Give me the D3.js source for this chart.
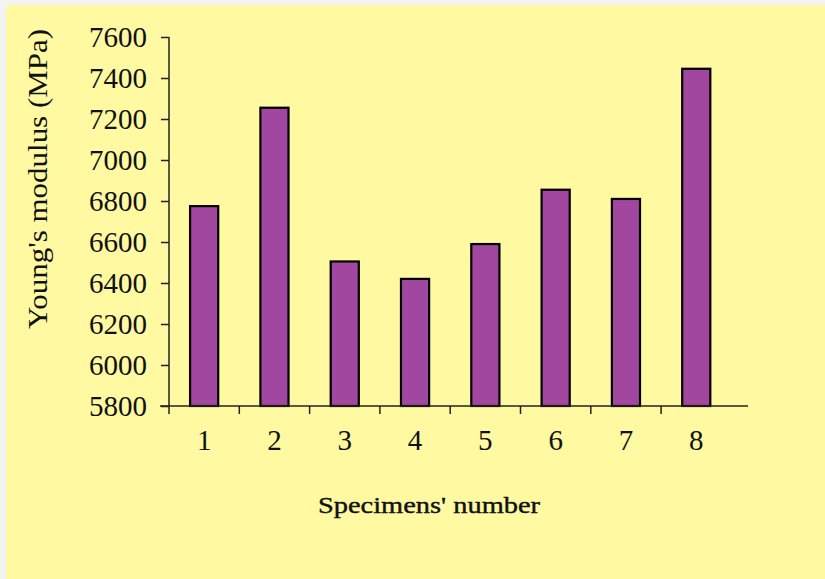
<!DOCTYPE html>
<html><head><meta charset="utf-8">
<script src="https://cdn.jsdelivr.net/npm/d3@7"></script>
<style>html,body{margin:0;padding:0;background:#f3f3f3;}svg{display:block;}</style>
</head><body>
<script>
const categories = ["1","2","3","4","5","6","7","8"];
const values = [6775, 7255, 6505, 6420, 6590, 6855, 6810, 7445];
const yTicks = [5800, 6000, 6200, 6400, 6600, 6800, 7000, 7200, 7400, 7600];
const yTitle = "Young's modulus (MPa)";
const xTitle = "Specimens' number";

const W = 825, H = 579;
const svg = d3.select("body").append("svg").attr("width", W).attr("height", H);
svg.append("rect").attr("x", 6).attr("y", 5).attr("width", W - 6).attr("height", H - 5).attr("fill", "#fff9a2");

const x0 = 169, bandW = 70.3;
const x = d3.scaleBand().domain(categories).range([x0, x0 + bandW * categories.length]).paddingInner(0.6).paddingOuter(0.3);
const y = d3.scaleLinear().domain([5800, 7600]).range([406, 37]);

const g = svg.append("g");
g.selectAll("rect.bar").data(values).join("rect").attr("class", "bar")
  .attr("x", (d, i) => x(categories[i]))
  .attr("y", d => y(d))
  .attr("width", x.bandwidth())
  .attr("height", d => y(5800) - y(d))
  .attr("fill", "#a2479f").attr("stroke", "#000").attr("stroke-width", 2.2);

// y axis
const yAxis = d3.axisLeft(y).tickValues(yTicks).tickSize(8).tickPadding(14).tickFormat(d3.format("d"));
const ya = svg.append("g").attr("transform", `translate(${x0},0)`).call(yAxis);
ya.select(".domain").attr("stroke", "#222").attr("stroke-width", 1.5).attr("d", `M0,${y(7600)}V${y(5800)}`);
ya.selectAll(".tick line").attr("stroke", "#222").attr("stroke-width", 1.5);
ya.selectAll(".tick text").attr("font-family", "Liberation Serif").attr("font-size", 29).attr("fill", "#111");

// x axis
const xBound = d3.scaleLinear().domain([0, categories.length]).range([x0, x0 + bandW * categories.length]);
const xa = svg.append("g").attr("transform", `translate(0,${y(5800)})`);
xa.append("path").attr("d", `M${x0 - 9},0H748`).attr("stroke", "#222").attr("stroke-width", 1.5).attr("fill", "none");
xa.selectAll("line.tk").data(d3.range(categories.length)).join("line").attr("class", "tk")
  .attr("x1", d => xBound(d)).attr("x2", d => xBound(d)).attr("y1", 0).attr("y2", 8)
  .attr("stroke", "#222").attr("stroke-width", 1.5);
xa.selectAll("text").data(categories).join("text")
  .attr("x", d => x(d) + x.bandwidth() / 2).attr("y", 44)
  .attr("text-anchor", "middle").attr("font-family", "Liberation Serif").attr("font-size", 29).attr("fill", "#111")
  .text(d => d);

svg.append("text").attr("transform", `translate(47,179) rotate(-90)`)
  .attr("text-anchor", "middle").attr("font-family", "Liberation Serif").attr("font-size", 27).attr("fill", "#111")
  .attr("textLength", 300).attr("lengthAdjust", "spacingAndGlyphs")
  .text(yTitle);

svg.append("text").attr("x", 429).attr("y", 513).attr("text-anchor", "middle")
  .attr("font-family", "Liberation Serif").attr("font-size", 24).attr("fill", "#111")
  .attr("stroke", "#111").attr("stroke-width", 0.4)
  .attr("textLength", 222).attr("lengthAdjust", "spacingAndGlyphs")
  .text(xTitle);
</script>
</body></html>
